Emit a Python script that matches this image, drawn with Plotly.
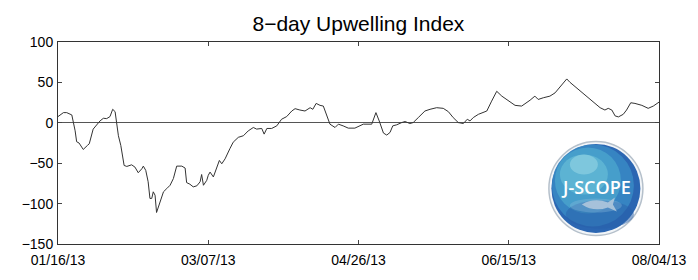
import pandas as pd
import plotly.graph_objects as go

# Day offsets from 2013-01-16 and 8-day upwelling index values
day_offset = [0, 1.8, 2.9, 4.6, 5.7, 6.2, 7.0, 8.4, 9.8, 10.4, 11.7, 12.9, 14.0, 15.1, 16.2,
              17.3, 18.2, 19.0, 19.5, 20.1, 20.9, 22.0, 22.9, 24.5, 25.6, 26.7, 27.9, 28.4,
              29.2, 30.0, 30.6, 31.2, 31.7, 32.3, 32.8, 33.4, 34.5, 35.1, 36.2, 37.3, 38.4,
              39.5, 41.2, 42.3, 42.8, 43.9, 45.0, 46.2, 47.3, 47.8, 48.4, 49.5, 50.0, 50.6,
              51.7, 52.8, 53.7, 54.5, 55.6, 57.2, 58.3, 60.0, 61.7, 63.3, 65.0, 66.1, 67.8,
              68.6, 69.5, 71.1, 72.8, 74.4, 76.1, 77.8, 78.9, 80.5, 82.2, 83.9, 84.8, 85.9,
              87.2, 88.3, 89.4, 90.5, 92.2, 93.3, 94.9, 96.6, 98.8, 100.5, 101.6, 104.4,
              104.9, 105.8, 106.9, 108.3, 109.4, 110.5, 111.4, 112.7, 114.4, 115.5, 117.1,
              118.2, 119.9, 122.1, 123.8, 126.0, 128.2, 129.9, 131.5, 133.2, 134.9, 136.2,
              137.1, 138.2, 139.9, 141.5, 142.7, 144.3, 146.0, 147.7, 149.9, 152.1, 154.3,
              156.0, 157.1, 158.7, 159.8, 161.5, 163.7, 165.4, 167.1, 168.4, 169.3, 170.4,
              172.0, 173.7, 175.4, 177.0, 178.7, 180.4, 182.0, 183.1, 184.3, 185.4, 186.5,
              188.1, 189.2, 190.6, 192.0, 194.3, 196.4, 198.1, 200.0]
upwelling = [7.7, 12.6, 12.6, 9.7, -9.9, -23.4, -25, -33, -28, -26, -7.8, -1.7, 2.4, 5.6, 5.2,
             7.7, 16.7, 13.8, -1.7, -16, -28, -52.8, -54, -52, -54.8, -61.8, -56.9, -53.6,
             -58.9, -73, -93.6, -93.6, -85.4, -89.6, -111, -103.8, -93.6, -85.4, -81.4, -77.3,
             -69, -53.6, -53.6, -56, -74, -76, -79.3, -78, -73, -64, -77.3, -71.2, -65, -61,
             -67, -54.8, -46.6, -50.7, -44.6, -32, -24, -18, -16, -10, -5.8, -7.8, -7,
             -14, -7, -7, -3.8, 4.4, 7.7, 14.6, 17.5, 15.8, 14.6, 18.7, 16.7, 24,
             21.6, 20.7, 8.5, -1.7, -5.8, -1.7, -3.8, -6.6, -6.6, -3.8, -1.7, -1.7,
             4.4, 12.6, 2.3, -12.7, -15.2, -11.9, -3.8, -2.5, 0.3, 1.6, -0.9,
             0.3, 6.5, 14.6, 16.7, 18.7, 17.9, 13.8, 6.5, 0.3, -0.9, 4.4,
             2.3, 6.5, 10.5, 12.6, 14.6, 26.8, 39, 33, 26.8, 21.6, 20.7,
             24.8, 28, 33, 28.9, 31, 33, 37, 45, 51.3, 54.3, 50,
             45, 40, 35, 29.8, 24, 18.7, 15.8, 17.9, 15.8, 8.5, 7.3,
             10.5, 15.8, 24.8, 24, 21.6, 17.9, 20.7, 25.6]

start_date = "2013-01-16"
x_tick_dates = ["2013-01-16", "2013-03-07", "2013-04-26", "2013-06-15", "2013-08-04"]
x_tick_labels = ["01/16/13", "03/07/13", "04/26/13", "06/15/13", "08/04/13"]
y_ticks = [-150, -100, -50, 0, 50, 100]

dates = pd.Timestamp(start_date) + pd.to_timedelta(day_offset, unit="D")

FONT = "Liberation Sans, Arial, Helvetica, sans-serif"

fig = go.Figure()
fig.add_trace(go.Scatter(x=dates, y=upwelling, mode="lines",
                         line=dict(color="#333333", width=1), hoverinfo="skip",
                         showlegend=False))

# J-SCOPE logo (approximation with layered circles)
cx, cy = 0.895, 0.275
def ell(fill, rx, ry=None, dx=0, dy=0, line=None):
    ry = rx if ry is None else ry
    return dict(type="circle", xref="paper", yref="paper", xsizemode="pixel",
                ysizemode="pixel", xanchor=cx, yanchor=cy,
                x0=dx - rx, x1=dx + rx, y0=dy - ry, y1=dy + ry,
                fillcolor=fill, line=dict(width=0 if line is None else 1.5,
                                          color=line or "rgba(0,0,0,0)"),
                layer="above")

shapes = [
    ell("#f2f5f8", 47, line="#b5c0cb"),
    ell("#2b66b2", 44.5),
    ell("rgba(55,135,195,0.9)", 41, dx=-3, dy=3),
    ell("rgba(75,165,205,0.8)", 33, dx=-8, dy=8),
    ell("rgba(105,190,215,0.65)", 24, 20, dx=-12, dy=14),
    ell("rgba(160,220,232,0.5)", 14, 10, dx=-12, dy=24),
    ell("rgba(40,95,170,0.5)", 34, 14, dx=4, dy=-26),
    ell("rgba(140,185,220,0.35)", 26, 7, dx=0, dy=-17),
    dict(type="path", xref="paper", yref="paper", xsizemode="pixel", ysizemode="pixel",
         xanchor=cx, yanchor=cy,
         path="M -14,-16 Q -2,-9 12,-14 L 19,-9 L 17,-16 L 21,-23 L 12,-19 Q -2,-24 -14,-16 Z",
         fillcolor="rgba(175,198,220,0.9)", line=dict(width=0), layer="above"),
]

fig.update_layout(
    width=698, height=280,
    margin=dict(l=58, r=39, t=42, b=34),
    paper_bgcolor="white", plot_bgcolor="white",
    font=dict(family=FONT, size=14, color="black"),
    title=dict(text="8\u2212day Upwelling Index", x=0.5135, xanchor="center",
               y=0.915, yanchor="middle", yref="container",
               font=dict(family=FONT, size=21, color="black")),
    xaxis=dict(type="date", range=[x_tick_dates[0], x_tick_dates[-1]],
               tickmode="array", tickvals=x_tick_dates, ticktext=x_tick_labels,
               ticks="inside", ticklen=4, tickcolor="#444", tickwidth=1,
               showline=True, linecolor="#333", linewidth=1, mirror="ticks",
               showgrid=False, zeroline=False, ticklabelstandoff=3,
               tickfont=dict(family=FONT, size=14, color="black")),
    yaxis=dict(range=[-150, 100], tickmode="array", tickvals=y_ticks,
               ticks="inside", ticklen=4, tickcolor="#444", tickwidth=1,
               showline=True, linecolor="#333", linewidth=1, mirror="ticks",
               showgrid=False, zeroline=True, zerolinecolor="#555", zerolinewidth=1,
               ticklabelstandoff=1,
               tickfont=dict(family=FONT, size=14, color="black")),
    shapes=shapes,
    annotations=[dict(text="J-SCOPE", xref="paper", yref="paper", x=cx, y=cy + 0.005,
                      xanchor="center", yanchor="middle", showarrow=False,
                      font=dict(family="Open Sans, sans-serif", size=18, color="white",
                                weight=600))],
)

fig.write_html("out.html")
